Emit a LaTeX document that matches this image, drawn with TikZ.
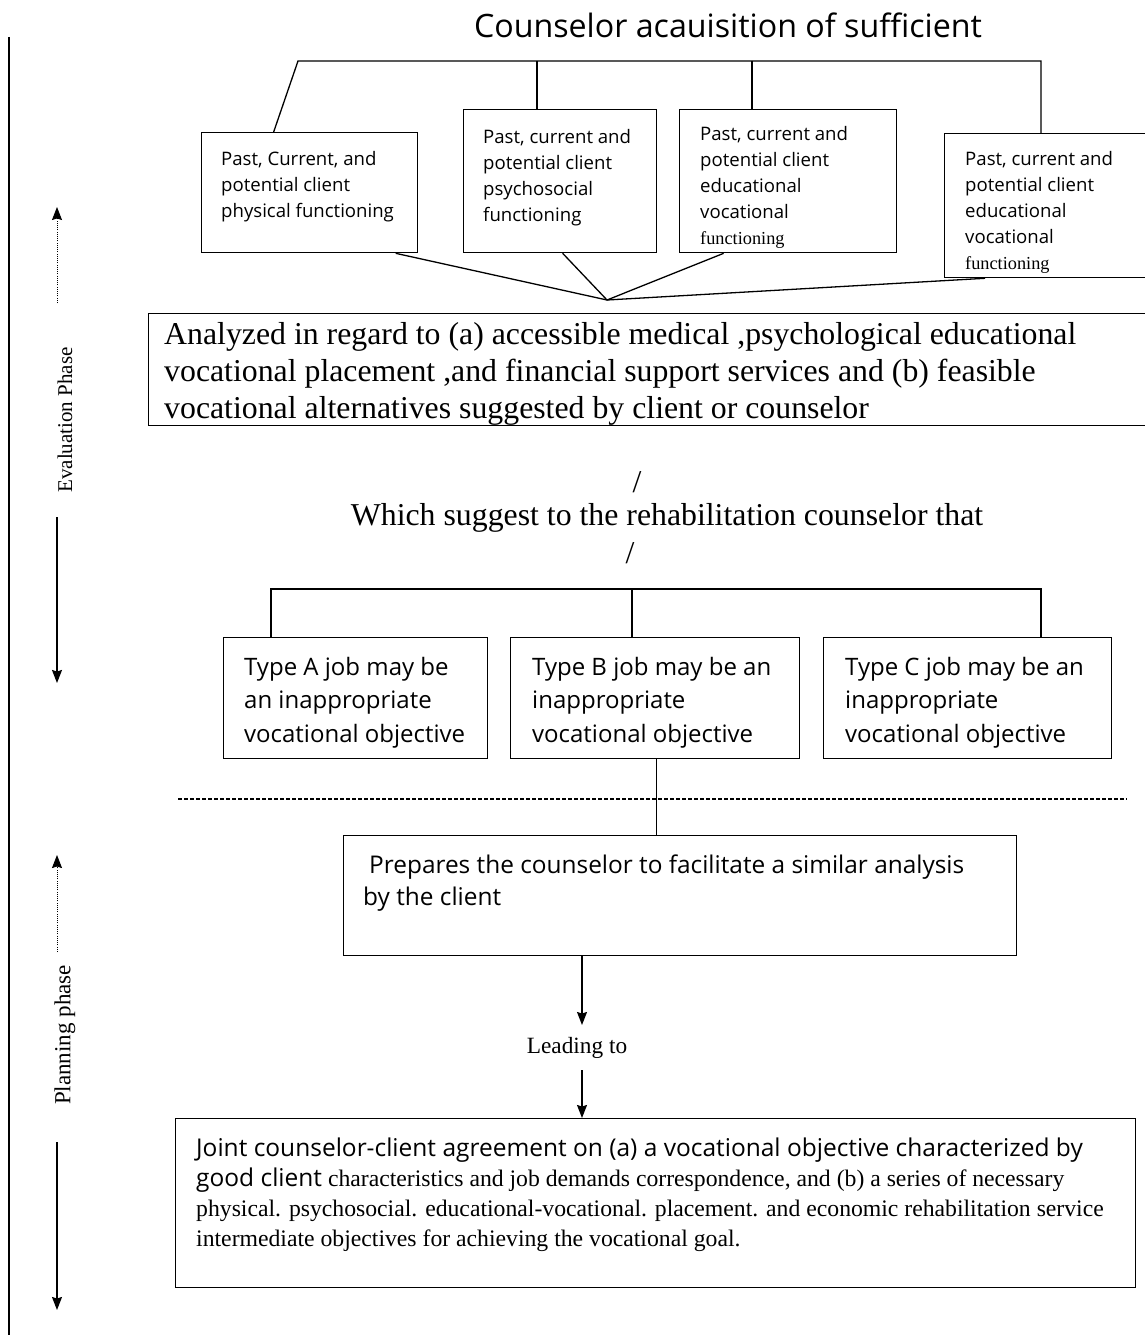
\documentclass[tikz,border=0pt]{standalone}
\usepackage{fontspec}
\setmainfont{Liberation Serif}
\newfontfamily\comic{Open Sans}
\usetikzlibrary{arrows.meta}
\newcommand\fs[2]{\fontsize{#1}{#2}\selectfont}
\tikzset{
  boxn/.style={draw, line width=1.3pt, rectangle, inner sep=0pt, anchor=north west},
  txt/.style={inner sep=0pt, anchor=north west, align=left},
  ln/.style={line width=1.3pt},
  arr/.style={line width=1.3pt, -{Stealth[length=13pt,width=10pt,inset=1.5pt]}},
  dotln/.style={line width=0.9pt, dash pattern=on 1pt off 1.2pt, -{Stealth[length=13pt,width=10pt,inset=1.5pt]}},
  sepline/.style={line width=1.2pt, dash pattern=on 4pt off 2pt},
  topfont/.style={font=\comic\fs{18.6}{26}},
  typefont/.style={font=\comic\fs{24}{33.5}},
}
\begin{document}
\begin{tikzpicture}[x=1pt,y=-1pt]
\clip (0,0) rectangle (1145,1335);
\fill[white] (0,0) rectangle (1145,1335);

% left border line
\coordinate (lt) at (9,37);
\coordinate (lb) at (9,1340);
\draw[line width=1.4pt] (lt) -- (lb);

% phase markers
\node[rotate=90, inner sep=0pt, font=\fs{21}{24}] (ev) at (65,420) {Evaluation Phase};
\coordinate (ev1) at (57,207);
\coordinate (ev2) at (57,303);
\coordinate (ev3) at (57,517);
\coordinate (ev4) at (57,683);
\draw[dotln] (ev2) -- (ev1);
\draw[arr] (ev3) -- (ev4);

\node[rotate=90, inner sep=0pt, font=\fs{23}{26}] (pl) at (65,1035) {Planning phase};
\coordinate (pl1) at (57,855);
\coordinate (pl2) at (57,952);
\coordinate (pl3) at (57,1142);
\coordinate (pl4) at (57,1310);
\draw[dotln] (pl2) -- (pl1);
\draw[arr] (pl3) -- (pl4);

% title
\node[inner sep=0pt, font=\comic\fs{32.2}{36}] (title) at (728,25) {Counselor acauisition of sufficient};

% top boxes
\node[boxn, minimum width=216pt, minimum height=120pt] (b1) at (201,132) {};
\node[boxn, minimum width=193pt, minimum height=143pt] (b2) at (463,109) {};
\node[boxn, minimum width=217pt, minimum height=143pt] (b3) at (679,109) {};
\node[boxn, minimum width=230pt, minimum height=144pt] (b4) at (944,133) {};

\node[txt, topfont] (t1) at (221,151) {Past, Current, and\\potential client\\physical functioning};
\node[txt, topfont] (t2) at (483,129) {Past, current and\\potential client\\psychosocial\\functioning};
\node[txt, topfont] (t3) at (700,126) {Past, current and\\potential client\\educational\\vocational\\{\rmfamily\fs{18.3}{23}functioning}};
\node[txt, topfont] (t4) at (965,151) {Past, current and\\potential client\\educational\\vocational\\{\rmfamily\fs{18.3}{23}functioning}};

% top bracket
\coordinate (brL) at (298,61);
\coordinate (brR) at (1041,61);
\coordinate (br2) at (537,61);
\coordinate (br3) at (752,61);
\draw[ln] ([xshift=-36pt]b1.north) -- (brL) -- (brR) -- (brR |- b4.north);
\draw[ln] (br2) -- (br2 |- b2.north);
\draw[ln] (br3) -- (br3 |- b3.north);

% converging lines
\coordinate (cv) at (607,300);
\draw[ln] ([xshift=86pt]b1.south) -- (cv);
\draw[ln] ([xshift=2.5pt]b2.south) -- (cv);
\draw[ln] ([xshift=-64.5pt]b3.south) -- (cv);
\draw[ln] ([xshift=41pt]b4.south west) -- (cv);

% analyzed box
\node[boxn, minimum width=1010pt, minimum height=112pt] (an) at (148,313) {};
\node[txt, font=\fs{31.8}{37}] (ant) at (164,322) {Analyzed in regard to (a) accessible medical ,psychological educational\\vocational placement ,and financial support services and (b) feasible\\vocational alternatives suggested by client or counselor};

\node[inner sep=0pt, font=\fs{31.8}{36}] (sl1) at (637,482) {/};
\node[inner sep=0pt, font=\fs{31.8}{36}] (wh) at (667,518) {Which suggest to the rehabilitation counselor that};
\node[inner sep=0pt, font=\fs{31.8}{36}] (sl2) at (630,553) {/};

% type boxes
\node[boxn, minimum width=264pt, minimum height=121pt] (ta) at (223,637) {};
\node[boxn, minimum width=289pt, minimum height=121pt] (tb) at (510,637) {};
\node[boxn, minimum width=288pt, minimum height=121pt] (tc) at (823,637) {};
\node[txt, typefont] (tat) at (244,657) {Type A job may be\\an inappropriate\\vocational objective};
\node[txt, typefont] (tbt) at (532,657) {Type B job may be an\\inappropriate\\vocational objective};
\node[txt, typefont] (tct) at (845,657) {Type C job may be an\\inappropriate\\vocational objective};

\coordinate (tbL) at (271,589);
\coordinate (tbM) at (632,589);
\coordinate (tbR) at (1041,589);
\draw[ln] (tbL |- ta.north) -- (tbL) -- (tbR) -- (tbR |- tc.north);
\draw[ln] (tbM) -- (tbM |- tb.north);

% phase separator
\coordinate (dL) at (178,799);
\coordinate (dR) at (1127,799);
\draw[sepline] (dL) -- (dR);

% prepares box
\node[boxn, minimum width=673pt, minimum height=120pt] (pr) at (343,835) {};
\node[txt, font=\comic\fs{24.4}{32}] (prt) at (363,855) {\hspace{6pt}Prepares the counselor to facilitate a similar analysis\\by the client};
\draw[ln] ([xshift=1.5pt]tb.south) -- ([xshift=1.5pt]tb.south |- pr.north);

% leading to
\node[inner sep=0pt, font=\fs{23.3}{26}] (lead) at (577,1048) {Leading to};
\coordinate (ax1) at (582,1025);
\coordinate (ax2) at (582,1070);
\draw[arr] (pr.south -| ax1) -- (ax1);

% joint box
\node[boxn, minimum width=960pt, minimum height=169pt] (jt) at (175,1118) {};
\draw[arr] (ax2) -- (ax2 |- jt.north);
\node[txt, font=\fs{23.7}{30}] (jtt) at (196,1138) {{\comic\fs{24.5}{30}Joint counselor-client agreement on (a) a vocational objective characterized by}\\{\comic\fs{24.5}{30}good client} characteristics and job demands correspondence, and (b) a series of necessary\\physical. psychosocial. educational-vocational. placement. and economic rehabilitation service\\intermediate objectives for achieving the vocational goal.};

\end{tikzpicture}
\end{document}
